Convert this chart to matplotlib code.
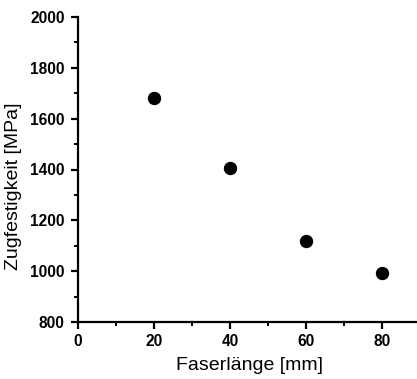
import numpy as np
import matplotlib.pyplot as plt
from matplotlib.ticker import MultipleLocator

# Werte
faserlaenge = [20, 40, 60, 80]
zugfestigkeit = [1680, 1406, 1118, 993]

plt.rcParams['font.family'] = ['Liberation Sans', 'DejaVu Sans']

fig = plt.figure(figsize=(4.17, 3.79), dpi=100)
ax = fig.add_axes([78/417, 1-322/379, 342/417, 305/379])

ax.plot(faserlaenge, zugfestigkeit, 'o', color='black', markersize=8.6, clip_on=False)

ax.set_xlim(0, 90)
ax.set_ylim(800, 2000)
ax.xaxis.set_major_locator(MultipleLocator(20))
ax.xaxis.set_minor_locator(MultipleLocator(10))
ax.yaxis.set_major_locator(MultipleLocator(200))
ax.yaxis.set_minor_locator(MultipleLocator(100))

for s in ['top', 'right']:
    ax.spines[s].set_visible(False)
for s in ['left', 'bottom']:
    ax.spines[s].set_linewidth(1.6)

ax.tick_params(which='major', direction='out', length=5, width=1.6, labelsize=11.2)
ax.tick_params(which='minor', direction='out', length=3, width=1.4)
ax.tick_params(axis='x', which='major', pad=3.5)
ax.tick_params(axis='y', which='major', pad=4.5)
for lbl in ax.get_xticklabels() + ax.get_yticklabels():
    lbl.set_fontweight('bold')

ax.set_xlabel('Faserlänge [mm]', fontsize=14, labelpad=6)
ax.set_ylabel('Zugfestigkeit [MPa]', fontsize=14)
# Beschriftung der y-Achse sitzt etwas unterhalb der Mitte
ax.yaxis.set_label_coords(-0.165, 0.445)

fig.savefig('out.png', dpi=100)
